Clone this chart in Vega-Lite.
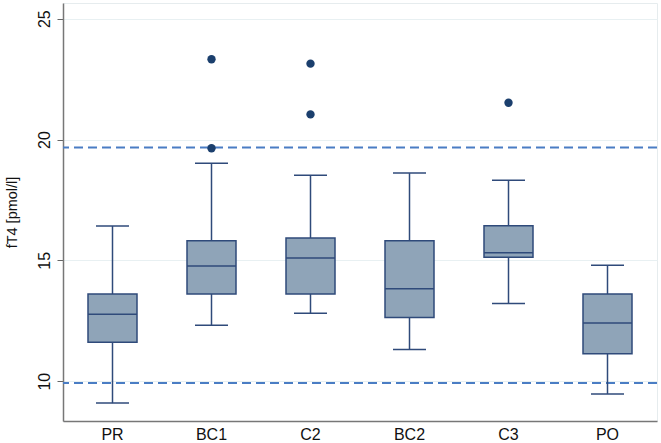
{
  "$schema": "https://vega.github.io/schema/vega-lite/v6.json",
  "autosize": "none",
  "width": 594,
  "height": 418,
  "padding": {"left": 63, "top": 3, "right": 4, "bottom": 22},
  "background": "white",
  "config": {
    "font": "Liberation Sans",
    "view": {"stroke": "#e6ecee", "strokeWidth": 1},
    "axis": {"labelFont": "Liberation Sans", "titleFont": "Liberation Sans"}
  },
  "datasets": {
    "boxes": [
      {"group": "PR", "lower": 9.09, "q1": 11.61, "median": 12.77, "q3": 13.61, "upper": 16.42},
      {"group": "BC1", "lower": 12.31, "q1": 13.61, "median": 14.76, "q3": 15.81, "upper": 19.02},
      {"group": "C2", "lower": 12.81, "q1": 13.61, "median": 15.10, "q3": 15.92, "upper": 18.52},
      {"group": "BC2", "lower": 11.31, "q1": 12.63, "median": 13.82, "q3": 15.81, "upper": 18.61},
      {"group": "C3", "lower": 13.21, "q1": 15.13, "median": 15.31, "q3": 16.43, "upper": 18.31},
      {"group": "PO", "lower": 9.47, "q1": 11.13, "median": 12.41, "q3": 13.61, "upper": 14.80}
    ],
    "outliers": [
      {"group": "BC1", "value": 23.32},
      {"group": "BC1", "value": 19.64},
      {"group": "C2", "value": 23.14},
      {"group": "C2", "value": 21.04},
      {"group": "C3", "value": 21.52}
    ],
    "refs": [
      {"ref": 19.67},
      {"ref": 9.92}
    ]
  },
  "data": {"name": "boxes"},
  "encoding": {
    "x": {
      "field": "group",
      "type": "nominal",
      "sort": ["PR", "BC1", "C2", "BC2", "C3", "PO"],
      "scale": {"paddingInner": 0, "paddingOuter": 0},
      "axis": {
        "title": null,
        "labelAngle": 0,
        "labelFontSize": 16,
        "labelColor": "#111111",
        "labelPadding": 5,
        "ticks": false,
        "domainColor": "#777777",
        "domainWidth": 1.5
      }
    }
  },
  "layer": [
    {
      "data": {"name": "refs"},
      "mark": {"type": "rule", "color": "#4a7dc4", "strokeWidth": 2, "strokeDash": [9, 5]},
      "encoding": {
        "x": null,
        "y": {
          "field": "ref",
          "type": "quantitative",
          "scale": {"domain": [8.35, 25.65], "nice": false, "zero": false},
          "axis": {
            "title": "fT4 [pmol/l]",
            "titleFontSize": 14.5,
            "titleFontWeight": "normal",
            "titleColor": "#111111",
            "titlePadding": 17,
            "values": [10, 15, 20, 25],
            "labelAngle": -90,
            "labelAlign": "center",
            "labelBaseline": "bottom",
            "labelFontSize": 16,
            "labelColor": "#111111",
            "labelPadding": 5,
            "tickSize": 6,
            "tickColor": "#666666",
            "domainColor": "#777777",
            "domainWidth": 1.5,
            "grid": true,
            "gridColor": "#e8f0f2",
            "gridWidth": 1.2
          }
        }
      }
    },
    {
      "mark": {"type": "rule", "color": "#2f4a7a", "strokeWidth": 1.5},
      "encoding": {
        "y": {"field": "lower", "type": "quantitative"},
        "y2": {"field": "upper"}
      }
    },
    {
      "mark": {"type": "tick", "color": "#2f4a7a", "size": 33, "thickness": 1.5, "opacity": 1},
      "encoding": {"y": {"field": "lower", "type": "quantitative"}}
    },
    {
      "mark": {"type": "tick", "color": "#2f4a7a", "size": 33, "thickness": 1.5, "opacity": 1},
      "encoding": {"y": {"field": "upper", "type": "quantitative"}}
    },
    {
      "mark": {"type": "bar", "fill": "#8fa4b8", "stroke": "#2f4a7a", "strokeWidth": 1.5, "size": 49},
      "encoding": {
        "y": {"field": "q1", "type": "quantitative"},
        "y2": {"field": "q3"}
      }
    },
    {
      "mark": {"type": "tick", "color": "#2f4a7a", "size": 49, "thickness": 1.5, "opacity": 1},
      "encoding": {"y": {"field": "median", "type": "quantitative"}}
    },
    {
      "data": {"name": "outliers"},
      "mark": {"type": "point", "filled": true, "color": "#1b3f6d", "size": 70, "opacity": 1},
      "encoding": {"y": {"field": "value", "type": "quantitative"}}
    }
  ]
}
